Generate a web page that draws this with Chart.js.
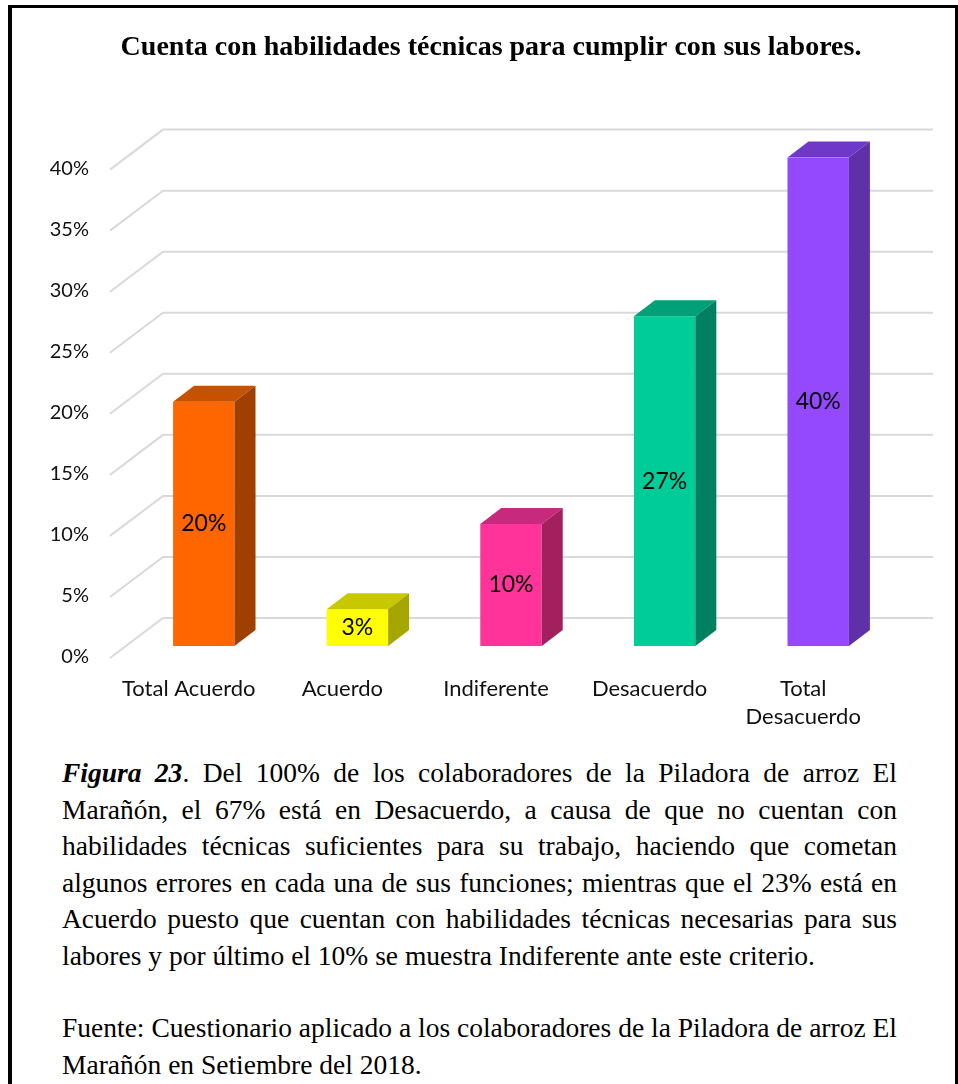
<!DOCTYPE html>
<html>
<head>
<meta charset="utf-8">
<script src="https://cdn.jsdelivr.net/npm/chart.js@4"></script>
<style>
  html, body { margin: 0; background: #fff; overflow: hidden; }
  .marco {
    position: absolute; left: 8px; top: 5px; width: 950px; height: 1200px;
    box-sizing: border-box; border-style: solid; border-color: #000;
    border-width: 3px 3px 0 4px; background: #fff;
  }
  #grafico { position: absolute; left: 0; top: 0; }
  .texto {
    position: absolute; left: 62px; width: 835px; color: #000;
    font-family: "Liberation Serif", "Times New Roman", serif;
    font-size: 27.5px; line-height: 36.5px;
  }
  .j { text-align: justify; text-align-last: justify; }
</style>
</head>
<body>
<div class="marco"></div>
<canvas id="grafico" width="982" height="740"></canvas>

<div class="texto" style="top:755px">
  <div class="j"><b><i>Figura 23</i></b>. Del 100% de los colaboradores de la Piladora de arroz El</div>
  <div class="j">Marañón, el 67% está en Desacuerdo, a causa de que no cuentan con</div>
  <div class="j">habilidades técnicas suficientes para su trabajo, haciendo que cometan</div>
  <div class="j">algunos errores en cada una de sus funciones; mientras que el 23% está en</div>
  <div class="j">Acuerdo puesto que cuentan con habilidades técnicas necesarias para sus</div>
  <div>labores y por último el 10% se muestra Indiferente ante este criterio.</div>
</div>
<div class="texto" style="top:1010px">
  <div class="j">Fuente: Cuestionario aplicado a los colaboradores de la Piladora de arroz El</div>
  <div>Marañón en Setiembre del 2018.</div>
</div>

<script>
// datos del gráfico
const categorias = ['Total Acuerdo', 'Acuerdo', 'Indiferente', 'Desacuerdo', ['Total', 'Desacuerdo']];
const porcentajes = [20, 3, 10, 27, 40];
const etiquetas = ['20%', '3%', '10%', '27%', '40%'];
const ticksY = [0, 5, 10, 15, 20, 25, 30, 35, 40];

// colores de cada barra: frente, tapa y costado
const colorFrente = ['#FF6600', '#FFFF00', '#FF3399', '#00CC99', '#9549FF'];
const colorTapa = ['#C65200', '#C8C800', '#C72A7C', '#00A078', '#7038C9'];
const colorLado = ['#A04000', '#A6A600', '#A3205F', '#008060', '#5F30A8'];

const fuenteY = { family: 'Lato, "Noto Sans", sans-serif', size: 20, lineHeight: 1.4 };
const fuenteX = { family: 'Lato, "Noto Sans", sans-serif', size: 22, lineHeight: 1.27 };

// profundidad del efecto 3D
const PROF_X = 21, PROF_Y = -16;

// rejilla en perspectiva (detrás de las barras) y caras 3D de las barras
const rejilla3D = {
  id: 'rejilla3D',
  beforeDatasetsDraw(chart) {
    const { ctx, chartArea, scales } = chart;
    ctx.save();
    ctx.strokeStyle = '#D9D9D9';
    ctx.lineWidth = 2;
    ticksY.forEach(v => {
      const y = scales.y.getPixelForValue(v);
      ctx.beginPath();
      ctx.moveTo(chartArea.left - 17, y + 12);
      ctx.lineTo(chartArea.left + 36, y - 28);
      ctx.lineTo(chartArea.right + 38, y - 28);
      ctx.stroke();
    });
    ctx.restore();
  },
  afterDatasetsDraw(chart) {
    const { ctx } = chart;
    const barras = chart.getDatasetMeta(0).data;
    ctx.save();
    barras.forEach((b, i) => {
      const x1 = b.x - b.width / 2, x2 = b.x + b.width / 2;
      const top = b.y, base = b.base;
      // tapa
      ctx.fillStyle = colorTapa[i];
      ctx.beginPath();
      ctx.moveTo(x1, top);
      ctx.lineTo(x1 + PROF_X, top + PROF_Y);
      ctx.lineTo(x2 + PROF_X, top + PROF_Y);
      ctx.lineTo(x2, top);
      ctx.closePath();
      ctx.fill();
      // costado
      ctx.fillStyle = colorLado[i];
      ctx.beginPath();
      ctx.moveTo(x2, top);
      ctx.lineTo(x2 + PROF_X, top + PROF_Y);
      ctx.lineTo(x2 + PROF_X, base + PROF_Y);
      ctx.lineTo(x2, base);
      ctx.closePath();
      ctx.fill();
      // etiqueta de valor
      ctx.fillStyle = '#000';
      ctx.font = '23px Lato, "Noto Sans", sans-serif';
      ctx.textAlign = 'center';
      ctx.textBaseline = 'middle';
      ctx.fillText(etiquetas[i], b.x, (top + base) / 2);
    });
    ctx.restore();
  }
};

const ctx = document.getElementById('grafico').getContext('2d');
new Chart(ctx, {
  type: 'bar',
  data: {
    labels: categorias,
    datasets: [{
      data: porcentajes,
      backgroundColor: colorFrente,
      borderWidth: 0,
      categoryPercentage: 1,
      barPercentage: 0.4
    }]
  },
  options: {
    responsive: false,
    animation: false,
    devicePixelRatio: 1,
    layout: { padding: 0 },
    plugins: {
      legend: { display: false },
      tooltip: { enabled: false },
      title: {
        display: true,
        text: 'Cuenta con habilidades técnicas para cumplir con sus labores.',
        color: '#000',
        font: { family: '"Liberation Serif", "Times New Roman", serif', size: 28, weight: 'bold', lineHeight: 1.2 },
        padding: { top: 31, bottom: 93 }
      }
    },
    scales: {
      x: {
        grid: { display: false, drawTicks: false },
        border: { display: false },
        ticks: { color: '#111', font: fuenteX, padding: 29, labelOffset: -15, maxRotation: 0, autoSkip: false },
        afterFit: s => { s.height = 94; }
      },
      y: {
        min: 0,
        max: 40,
        grid: { display: false, drawTicks: false },
        border: { display: false },
        ticks: {
          stepSize: 5,
          color: '#111',
          font: fuenteY,
          padding: 38,
          labelOffset: 11,
          callback: v => v + '%'
        },
        afterFit: s => { s.width = 127; }
      },
      // eje vacío a la derecha: reserva el margen derecho del área de trazado
      y2: {
        position: 'right',
        grid: { display: false, drawTicks: false },
        border: { display: false },
        ticks: { display: false },
        afterFit: s => { s.width = 87; }
      }
    }
  },
  plugins: [rejilla3D]
});
</script>
</body>
</html>
